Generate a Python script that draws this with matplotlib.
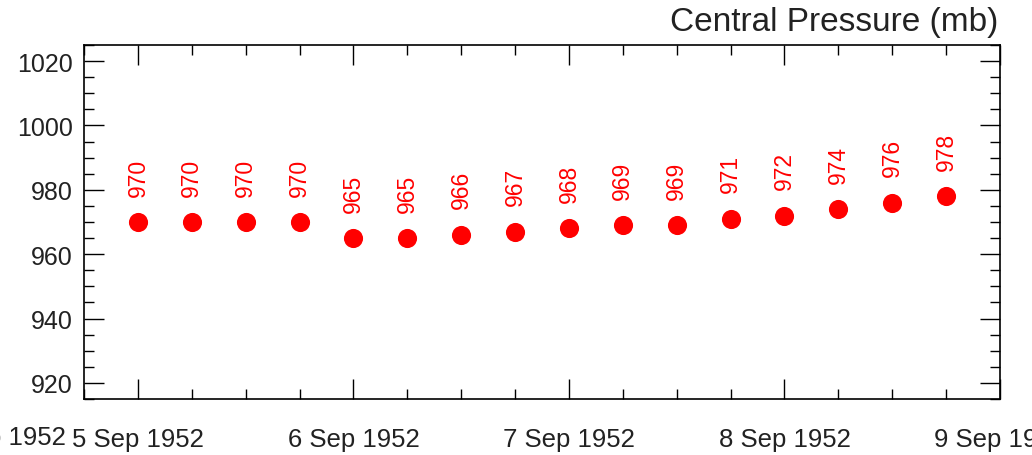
import matplotlib
matplotlib.use("Agg")
import matplotlib.pyplot as plt
import matplotlib.dates as mdates
import numpy as np
import datetime as dt

plt.rcParams['font.family'] = ['Liberation Sans', 'DejaVu Sans']

start = dt.datetime(1952, 9, 5, 0)
times = [start + dt.timedelta(hours=6 * i) for i in range(16)]
pressure = [970, 970, 970, 970, 965, 965, 966, 967, 968, 969, 969, 971, 972, 974, 976, 978]
day_ticks = [dt.datetime(1952, 9, d) for d in range(5, 10)]
day_labels = ["5 Sep 1952", "6 Sep 1952", "7 Sep 1952", "8 Sep 1952", "9 Sep 1952"]
title = "Central Pressure (mb)"

TXT = '#222222'

fig = plt.figure(figsize=(10.32, 4.56), dpi=100)
ax = fig.add_axes([84/1032, 56/456, 916/1032, 354/456])

ax.scatter(times, pressure, s=190, color='#ff0000', zorder=3, linewidths=0)
for t, p in zip(times, pressure):
    ax.annotate(str(p), (t, p), xytext=(0, 19), textcoords='offset points',
                rotation=90, ha='center', va='bottom', color='#ff0000', fontsize=16.5)

ax.set_xlim(dt.datetime(1952, 9, 4, 18), dt.datetime(1952, 9, 9, 0))
ax.set_ylim(915, 1025)

ax.set_xticks(day_ticks)
ax.set_xticklabels(day_labels)
ax.xaxis.set_minor_locator(mdates.HourLocator(byhour=[6, 12, 18]))
ax.set_yticks(np.arange(920, 1021, 20))
ax.yaxis.set_minor_locator(matplotlib.ticker.MultipleLocator(5))

ax.tick_params(which='both', direction='in', top=True, right=True, colors='black')
ax.tick_params(axis='x', labelsize=18.5, pad=20)
ax.tick_params(axis='y', labelsize=18, pad=8)
ax.tick_params(which='major', length=14.4, width=1)
ax.tick_params(which='minor', length=7.2, width=1)
for lab in ax.get_xticklabels() + ax.get_yticklabels():
    lab.set_color(TXT)
for s in ax.spines.values():
    s.set_linewidth(1.2)

fig.text(0 / 1032, 1 - 438 / 456, "4 Sep 1952", ha='center', va='center', fontsize=18.5, color=TXT)
fig.text(998 / 1032, 1 - 22 / 456, title, ha='right', va='center', fontsize=24, color=TXT)

fig.savefig("out.png", dpi=100)
